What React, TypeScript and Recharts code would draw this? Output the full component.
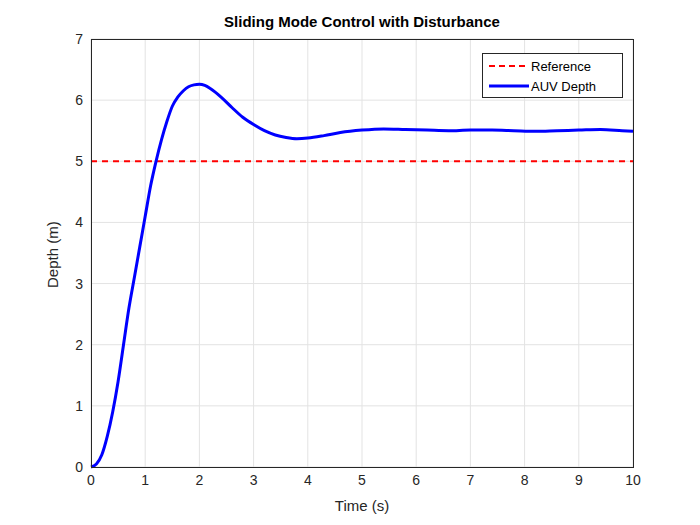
import React from "react";
import { LineChart, Line, XAxis, YAxis, CartesianGrid, ReferenceLine } from "recharts";

const times = [0, 0.1, 0.2, 0.3, 0.4, 0.5, 0.6, 0.7, 0.8, 0.9, 1.0, 1.1, 1.2, 1.3, 1.4, 1.5, 1.6, 1.7, 1.8, 1.9, 2.0, 2.1, 2.2, 2.4, 2.6, 2.8, 3.0, 3.2, 3.4, 3.6, 3.8, 4.0, 4.3, 4.6, 5.0, 5.4, 5.8, 6.2, 6.6, 7.0, 7.4, 7.8, 8.2, 8.6, 9.0, 9.4, 9.8, 10];
const depth = [0, 0.05, 0.2, 0.5, 0.9, 1.4, 2.0, 2.6, 3.1, 3.6, 4.1, 4.6, 5.0, 5.35, 5.65, 5.9, 6.05, 6.15, 6.22, 6.25, 6.26, 6.24, 6.19, 6.05, 5.88, 5.72, 5.6, 5.5, 5.43, 5.39, 5.37, 5.38, 5.42, 5.47, 5.51, 5.53, 5.52, 5.51, 5.5, 5.51, 5.51, 5.5, 5.49, 5.5, 5.51, 5.52, 5.5, 5.49];
const reference = 5;
const xTicks = [0, 1, 2, 3, 4, 5, 6, 7, 8, 9, 10];
const yTicks = [0, 1, 2, 3, 4, 5, 6, 7];

const data = times.map((t, i) => ({ t, depth: depth[i] }));
const font = "'Liberation Sans', Arial, sans-serif";
const tick = { fill: "#262626", fontSize: 14, fontFamily: font };

export default function App() {
  return (
    <div style={{ position: "absolute", left: 0, top: 0, width: 700, height: 525, background: "#fff", fontFamily: font }}>
      <LineChart width={700} height={525} data={data} margin={{ top: 39, right: 67, left: 61, bottom: 14 }}>
        <CartesianGrid stroke="#e3e3e3" />
        <XAxis dataKey="t" type="number" domain={[0, 10]} ticks={xTicks} tick={tick} tickLine={false} axisLine={false} height={44}
          label={{ value: "Time (s)", position: "insideBottom", offset: 0, fill: "#262626", fontSize: 15, fontFamily: font }} />
        <YAxis type="number" domain={[0, 7]} ticks={yTicks} tick={tick} tickLine={false} axisLine={false} width={30}
          label={{ value: "Depth (m)", angle: -90, position: "insideLeft", offset: -8, dy: 35, fill: "#262626", fontSize: 15, fontFamily: font }} />
        <ReferenceLine y={reference} stroke="#ff0000" strokeWidth={2} strokeDasharray="6 5" />
        <Line dataKey="depth" type="monotone" stroke="#0000ff" strokeWidth={3} dot={false} isAnimationActive={false} />
      </LineChart>
      <div style={{ position: "absolute", left: 91, top: 39, width: 541, height: 427, border: "1px solid #262626" }} />
      <div style={{ position: "absolute", left: 0, top: 13, width: 724, textAlign: "center", fontWeight: "bold", fontSize: 15, color: "#000" }}>
        Sliding Mode Control with Disturbance
      </div>
      <div style={{ position: "absolute", left: 482, top: 53, width: 139, height: 43, border: "1px solid #262626", background: "#fff", fontSize: 13, color: "#000" }}>
        <div style={{ display: "flex", alignItems: "center", height: 20, marginTop: 2 }}>
          <svg width={50} height={10} style={{ marginLeft: 6 }}><line x1={0} y1={5} x2={40} y2={5} stroke="#ff0000" strokeWidth={2} strokeDasharray="6 4" /></svg>
          <span style={{ marginLeft: -8 }}>Reference</span>
        </div>
        <div style={{ display: "flex", alignItems: "center", height: 20 }}>
          <svg width={50} height={10} style={{ marginLeft: 6 }}><line x1={0} y1={5} x2={40} y2={5} stroke="#0000ff" strokeWidth={3} /></svg>
          <span style={{ marginLeft: -8 }}>AUV Depth</span>
        </div>
      </div>
    </div>
  );
}
